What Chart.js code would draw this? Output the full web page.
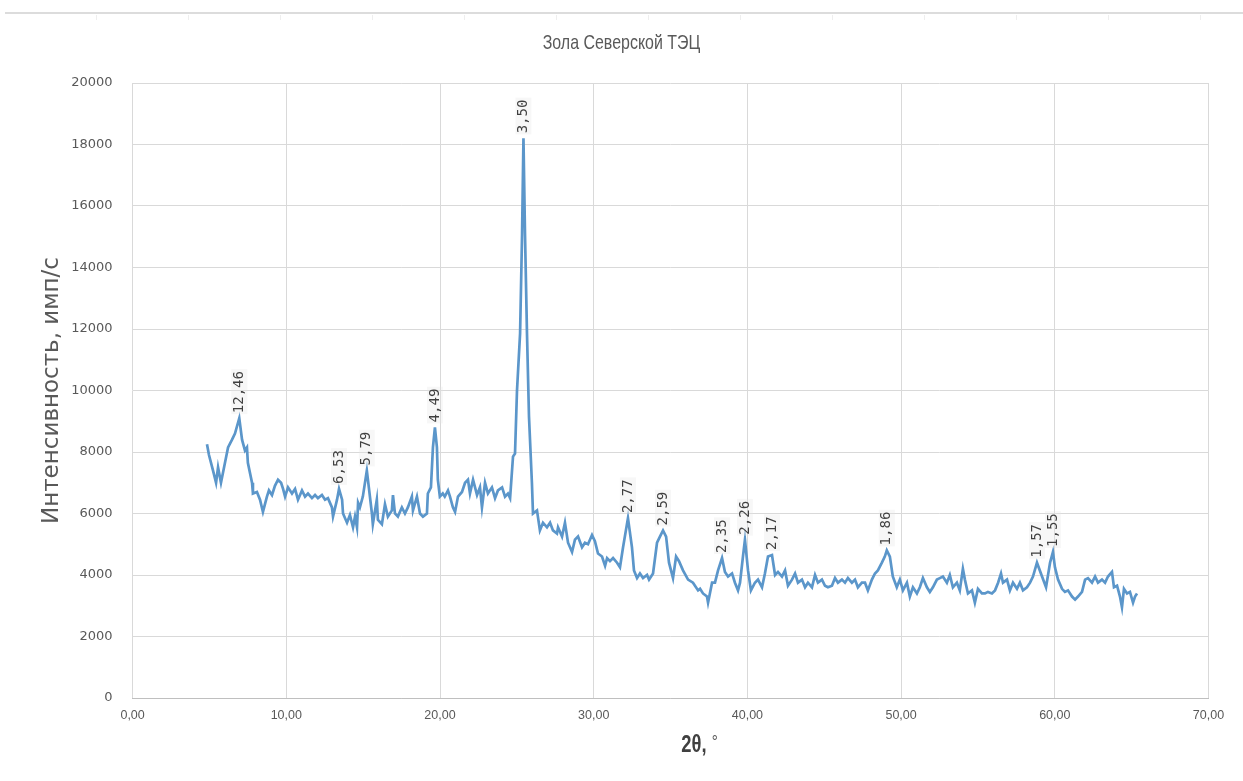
<!DOCTYPE html>
<html lang="ru">
<head>
<meta charset="utf-8">
<title>Зола Северской ТЭЦ</title>
<script src="https://cdn.jsdelivr.net/npm/chart.js@4/dist/chart.umd.min.js"></script>
<style>
  html, body { margin: 0; padding: 0; background: #ffffff; }
  #wrap { width: 1243px; height: 781px; }
</style>
</head>
<body>
<div id="wrap"><canvas id="xrd" width="1243" height="781"></canvas></div>
<script>
// Diffraction angle 2θ, degrees
const twoTheta = [
  4.84, 4.97, 5.23, 5.43, 5.56, 5.75, 6.01, 6.21, 6.47, 6.66, 6.94, 7.12, 7.31, 7.44, 7.50, 7.77, 7.83,
  8.09, 8.29, 8.48, 8.74, 8.87, 9.07, 9.26, 9.46, 9.66, 9.79, 9.92, 10.11, 10.37, 10.57, 10.76, 11.02,
  11.22, 11.41, 11.67, 11.87, 12.06, 12.32, 12.52, 12.71, 12.97, 13.04, 13.30, 13.43, 13.63, 13.69,
  13.95, 14.14, 14.34, 14.47, 14.60, 14.67, 14.79, 14.98, 15.24, 15.37, 15.57, 15.63, 15.89, 15.96,
  16.22, 16.42, 16.61, 16.87, 16.94, 17.07, 17.26, 17.52, 17.72, 17.91, 18.17, 18.24, 18.50, 18.70,
  18.89, 19.15, 19.21, 19.41, 19.54, 19.67, 19.80, 19.86, 19.99, 20.18, 20.31, 20.52, 20.65, 20.84,
  20.98, 21.17, 21.43, 21.63, 21.82, 21.95, 22.15, 22.41, 22.60, 22.73, 22.93, 23.12, 23.38, 23.58,
  23.77, 24.04, 24.23, 24.42, 24.56, 24.75, 24.88, 25.01, 25.21, 25.34, 25.43, 25.53, 25.66, 25.79,
  25.98, 26.05, 26.31, 26.50, 26.70, 26.96, 27.16, 27.35, 27.61, 27.68, 27.94, 28.13, 28.33, 28.59,
  28.78, 28.98, 29.24, 29.43, 29.63, 29.89, 30.08, 30.28, 30.54, 30.74, 30.87, 31.06, 31.26, 31.52,
  31.71, 31.91, 32.23, 32.49, 32.62, 32.82, 33.01, 33.21, 33.47, 33.60, 33.86, 34.12, 34.31, 34.51,
  34.71, 34.90, 35.16, 35.36, 35.55, 35.81, 36.14, 36.46, 36.79, 36.92, 37.11, 37.37, 37.44, 37.70,
  37.89, 38.09, 38.35, 38.54, 38.74, 39.00, 39.19, 39.39, 39.52, 39.71, 39.84, 40.04, 40.23, 40.49,
  40.69, 40.95, 41.14, 41.34, 41.60, 41.80, 41.99, 42.25, 42.45, 42.64, 42.90, 43.10, 43.29, 43.55,
  43.75, 43.94, 44.20, 44.40, 44.59, 44.85, 45.05, 45.24, 45.50, 45.70, 45.89, 46.15, 46.35, 46.54,
  46.80, 47.00, 47.19, 47.45, 47.65, 47.84, 48.10, 48.30, 48.49, 48.75, 48.94, 49.07, 49.27, 49.46,
  49.72, 49.92, 50.12, 50.38, 50.57, 50.77, 51.03, 51.22, 51.42, 51.68, 51.87, 52.07, 52.33, 52.52,
  52.72, 52.98, 53.17, 53.37, 53.63, 53.82, 54.02, 54.15, 54.35, 54.61, 54.80, 55.00, 55.26, 55.46,
  55.65, 55.91, 56.11, 56.31, 56.50, 56.63, 56.89, 57.08, 57.28, 57.54, 57.73, 57.93, 58.19, 58.39,
  58.58, 58.84, 59.17, 59.43, 59.69, 59.88, 60.01, 60.21, 60.47, 60.66, 60.86, 61.12, 61.32, 61.51,
  61.77, 61.97, 62.16, 62.42, 62.62, 62.81, 63.07, 63.27, 63.46, 63.72, 63.85, 64.05, 64.24, 64.37,
  64.50, 64.70, 64.89, 65.09, 65.22, 65.35
];

// Intensity, counts per second
const intensity = [
  8250, 7900, 7400, 7000, 7500, 7000, 7650, 8150, 8400, 8600, 9100, 8400, 8050, 8150, 7650, 7000, 6650,
  6700, 6450, 6050, 6550, 6750, 6600, 6900, 7100, 7000, 6800, 6550, 6850, 6650, 6800, 6450, 6750,
  6550, 6650, 6500, 6600, 6500, 6600, 6450, 6500, 6200, 5900, 6450, 6800, 6450, 6000,
  5700, 5950, 5550, 5900, 5550, 6350, 6200, 6550, 7400, 6850, 6000, 5650, 6450, 5800,
  5650, 6300, 5900, 6100, 6600, 6000, 5900, 6200, 6000, 6200, 6550, 6100, 6550, 6000,
  5900, 6000, 6650, 6850, 8150, 8800, 8150, 7100, 6550, 6650, 6550, 6750, 6550, 6200,
  6050, 6550, 6700, 7000, 7100, 6650, 7100, 6600, 6850, 6200, 7000, 6650, 6850, 6500,
  6750, 6850, 6550, 6650, 6500, 7850, 7950, 10000, 11850, 15100, 18200, 15100, 11850, 9150,
  7000, 6000, 6100, 5450, 5700, 5550, 5700, 5450, 5350, 5550, 5250, 5700, 5050, 4750,
  5150, 5250, 4900, 5050, 5000, 5300, 5100, 4700, 4600, 4300, 4550, 4450, 4550, 4400,
  4250, 4900, 5850, 4900, 4150, 3900, 4050, 3900, 4000, 3850, 4050, 5050, 5250, 5450,
  5250, 4400, 3900, 4600, 4450, 4150, 3850, 3750, 3500, 3550, 3400, 3300, 3100, 3750,
  3750, 4150, 4550, 4100, 3950, 4050, 3750, 3500, 3750, 4600, 5150, 4150, 3500, 3750,
  3850, 3600, 4050, 4600, 4650, 4000, 4100, 3950, 4150, 3650, 3850, 4050, 3750, 3850,
  3600, 3750, 3600, 4000, 3750, 3850, 3650, 3600, 3650, 3900, 3750, 3850, 3750, 3900,
  3750, 3850, 3600, 3750, 3750, 3500, 3850, 4050, 4150, 4400, 4600, 4800, 4600, 3950,
  3600, 3850, 3500, 3750, 3300, 3600, 3400, 3600, 3900, 3600, 3450, 3600, 3850, 3900,
  3950, 3750, 4000, 3600, 3750, 3500, 4200, 3850, 3400, 3500, 3100, 3550, 3400, 3400,
  3450, 3400, 3500, 3750, 4050, 3750, 3850, 3500, 3750, 3550, 3750, 3500, 3600, 3750,
  3950, 4400, 3950, 3600, 4400, 4750, 4250, 3850, 3550, 3450, 3500, 3300, 3200, 3300,
  3450, 3850, 3900, 3750, 3950, 3750, 3850, 3750, 3950, 4100, 3600, 3650, 3300, 2950,
  3550, 3400, 3450, 3100, 3300, 3400
];

// Reflections marked with interplanar spacing d, Å
const peakAngles = [6.94, 13.43, 15.24, 19.67, 25.43, 32.23, 34.51, 38.35, 39.84, 41.60, 49.07, 58.84, 59.88];
const peakLabels = ['12,46', '6,53', '5,79', '4,49', '3,50', '2,77', '2,59', '2,35', '2,26', '2,17', '1,86', '1,57', '1,55'];

// Axis ticks and captions
const xTickStep = 10;
const yTickStep = 2000;
const chartTitle = 'Зола Северской ТЭЦ';
const xTitle = '2θ,';
const xTitleUnit = '°';
const yTitle = 'Интенсивность, имп/с';

const points = twoTheta.map((x, i) => ({ x: x, y: intensity[i] }));

const sans = '"Liberation Sans", Arial, sans-serif';

// Thin grey rule along the top edge of the sheet
const topRule = {
  id: 'topRule',
  beforeDraw(chart) {
    const ctx = chart.ctx;
    ctx.save();
    ctx.strokeStyle = '#dcdcdc';
    ctx.lineWidth = 2;
    ctx.beginPath();
    ctx.moveTo(5, 13);
    ctx.lineTo(chart.width, 13);
    ctx.stroke();
    ctx.strokeStyle = '#eeeeee';
    ctx.lineWidth = 1;
    for (let x = 96; x < chart.width; x += 92) {
      ctx.beginPath();
      ctx.moveTo(x + 0.5, 15);
      ctx.lineTo(x + 0.5, 20);
      ctx.stroke();
    }
    ctx.restore();
  }
};

// Condensed chart title and the 2θ caption under the x axis
const captions = {
  id: 'captions',
  afterDraw(chart) {
    const ctx = chart.ctx;
    const area = chart.chartArea;
    ctx.save();
    ctx.textBaseline = 'middle';
    ctx.textAlign = 'center';
    // chart title, centred on the sheet
    ctx.save();
    ctx.translate(chart.width / 2, 43);
    ctx.scale(0.76, 1);
    ctx.font = '21px ' + sans;
    ctx.fillStyle = '#595959';
    ctx.fillText(chartTitle, 0, 0);
    ctx.restore();
    // x axis caption
    ctx.save();
    ctx.translate(area.left + (area.right - area.left) * 0.527, 746);
    ctx.scale(0.8, 1);
    ctx.font = 'bold 23px ' + sans;
    const w1 = ctx.measureText(xTitle + ' ').width;
    ctx.font = '19px ' + sans;
    const w2 = ctx.measureText(xTitleUnit).width;
    const start = -(w1 + w2) / 2;
    ctx.textAlign = 'left';
    ctx.fillStyle = '#404040';
    ctx.font = 'bold 23px ' + sans;
    ctx.fillText(xTitle, start, 0);
    ctx.font = '19px ' + sans;
    ctx.fillStyle = '#595959';
    ctx.fillText(xTitleUnit, start + w1, -3);
    ctx.restore();
    ctx.restore();
  }
};

// Vertical d-spacing labels above the marked reflections
const peakTags = {
  id: 'peakTags',
  afterDatasetsDraw(chart) {
    const ctx = chart.ctx;
    const meta = chart.getDatasetMeta(0);
    ctx.save();
    ctx.font = '14px "DejaVu Sans Mono", "Liberation Mono", monospace';
    ctx.textBaseline = 'middle';
    ctx.textAlign = 'left';
    peakAngles.forEach((angle, k) => {
      let best = 0;
      twoTheta.forEach((x, i) => {
        if (Math.abs(x - angle) < Math.abs(twoTheta[best] - angle)) best = i;
      });
      const el = meta.data[best];
      const text = peakLabels[k];
      const w = ctx.measureText(text).width;
      ctx.save();
      ctx.translate(el.x, el.y - 5);
      ctx.rotate(-Math.PI / 2);
      ctx.fillStyle = 'rgba(230, 230, 230, 0.3)';
      ctx.fillRect(-1, -8, w + 3, 16);
      ctx.fillStyle = '#404040';
      ctx.fillText(text, 0, 0);
      ctx.restore();
    });
    ctx.restore();
  }
};

new Chart(document.getElementById('xrd'), {
  type: 'line',
  data: {
    datasets: [{
      data: points,
      borderColor: '#5b96ca',
      borderWidth: 2.7,
      pointRadius: 0,
      tension: 0,
      fill: false
    }]
  },
  options: {
    responsive: false,
    animation: false,
    devicePixelRatio: 1,
    layout: { padding: { left: 0, right: 34.5, top: 83, bottom: 0 } },
    plugins: {
      legend: { display: false },
      tooltip: { enabled: false },
      title: { display: false }
    },
    scales: {
      x: {
        type: 'linear',
        min: 0,
        max: 70,
        afterFit(scale) { scale.height = 83; },
        ticks: {
          stepSize: xTickStep,
          color: '#595959',
          padding: 10,
          maxRotation: 0,
          font: { family: sans, size: 12.5 },
          callback: (v) => v.toFixed(2).replace('.', ',')
        },
        grid: { color: '#d9d9d9', lineWidth: 1, drawTicks: false },
        border: { color: '#bfbfbf', width: 1 }
      },
      y: {
        min: 0,
        max: 20000,
        afterFit(scale) { scale.width = 132.6; },
        ticks: {
          stepSize: yTickStep,
          color: '#595959',
          padding: 20,
          font: { family: '"DejaVu Sans", sans-serif', size: 13 },
          callback: (v) => String(v)
        },
        grid: { color: '#d9d9d9', lineWidth: 1, drawTicks: false },
        border: { display: false },
        title: {
          display: true,
          text: yTitle,
          color: '#595959',
          font: { family: '"DejaVu Sans", sans-serif', size: 23, weight: 'normal', lineHeight: 1.2 },
          padding: { top: 38, bottom: 0 }
        }
      }
    }
  },
  plugins: [topRule, captions, peakTags]
});
</script>
</body>
</html>
